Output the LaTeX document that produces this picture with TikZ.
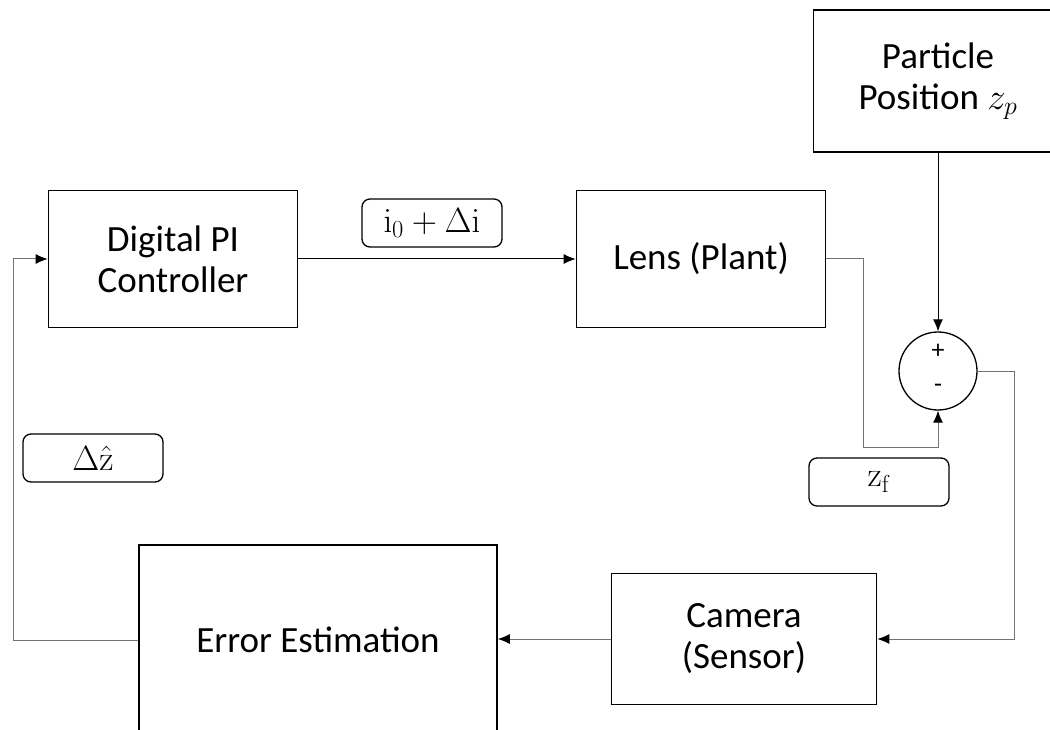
\RequirePackage{fix-cm}
\documentclass[tikz,border=0pt]{standalone}
\usepackage[no-math]{fontspec}
\setmainfont{Carlito}
\usetikzlibrary{arrows.meta}

\tikzstyle{block}=[draw, line width=1.6pt, minimum width=249pt, minimum height=137pt, align=center, font=\fontsize{37}{41}\selectfont]
\tikzstyle{sumnode}=[draw, circle, line width=1.3pt, minimum size=78pt, inner sep=0pt]
\tikzstyle{lbl}=[draw, rounded corners=8pt, line width=1.3pt, minimum width=140pt, minimum height=48pt, font=\fontsize{35}{38}\selectfont]
\tikzstyle{sig}=[line width=1pt, gray!90!black, -{Latex[length=12pt, width=10pt, black]}]

\begin{document}
\begin{tikzpicture}[x=1pt, y=-1pt]
    \useasboundingbox (0, 0) rectangle (1050, 730);
    \clip (0, 0) rectangle (1050, 730);

    \node[block] (pi)     at (173, 259) {Digital PI\\Controller};
    \node[block] (lens)   at (701, 259) {Lens (Plant)};
    \node[block, minimum height=142pt] (part) at (938, 81) {Particle\\Position $z_p$};
    \node[sumnode] (sum)  at (938, 371) {};
    \node[block, minimum width=265pt, minimum height=131pt] (cam) at (744, 639) {Camera\\(Sensor)};
    \node[block, minimum width=358pt, minimum height=190pt] (err) at (318, 640) {Error Estimation};

    \node[font=\fontsize{26}{30}\selectfont] at ([yshift=-20pt]sum.north) {+};
    \node[font=\fontsize{26}{30}\selectfont] at ([yshift=22pt]sum.south) {-};

    \node[lbl] (lcur) at (432, 223) {$\mathrm{i}_0+\Delta\mathrm{i}$};
    \node[lbl] (lerr) at (93, 458)  {$\Delta\hat{\mathrm{z}}$};
    \node[lbl] (lfoc) at (879, 482) {$\mathrm{z}_\mathrm{f}$};

    \coordinate (c1) at (863, 447);
    \coordinate (c2) at (1014, 639);
    \coordinate (c3) at (13, 640);

    \draw[sig, black] (pi.east |- lens.west) -- (lens.west);
    \draw[sig, black] (part.south) -- (sum.north);
    \draw[sig] (lens.east) -| (c1) -| (sum.south);
    \draw[sig] (sum.east) -| (c2) -- (cam.east);
    \draw[sig] (cam.west) -- (err.east |- cam.west);
    \draw[sig] (err.west |- c3) -- (c3) |- (pi.west);
\end{tikzpicture}
\end{document}
